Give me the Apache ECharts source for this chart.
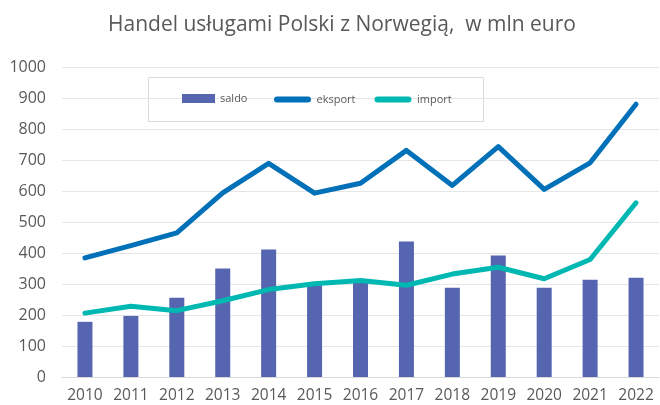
<!DOCTYPE html>
<html><head><meta charset="utf-8">
<script src="https://cdn.jsdelivr.net/npm/echarts@6/dist/echarts.min.js"></script>
<style>html,body{margin:0;padding:0;background:#fff}#c{width:660px;height:405px}</style>
</head><body><div id="c"></div>
<script>
const years = ['2010','2011','2012','2013','2014','2015','2016','2017','2018','2019','2020','2021','2022'];
const saldo = [178, 197, 256, 350, 411, 297, 305, 437, 288, 392, 288, 314, 320];
const eksport = [384, 424, 465, 594, 689, 593, 625, 731, 618, 743, 605, 691, 880];
const importV = [206, 228, 214, 246, 282, 301, 311, 296, 332, 354, 317, 379, 562];
const yTicks = {min: 0, max: 1000, interval: 100};

const chart = echarts.init(document.getElementById('c'));
const font = '"Open Sans", sans-serif';
const pill = 'path://M3,0H34A3,3,0,0,1,34,6H3A3,3,0,0,1,3,0Z';
const legendText = {fontFamily: font, fontSize: 11, color: '#595959'};
chart.setOption({
  animation: false,
  backgroundColor: '#fff',
  title: {
    text: 'Handel usługami Polski z Norwegią,  w mln euro',
    left: 103, top: 10,
    textStyle: {fontFamily: font, fontSize: 21, fontWeight: 'normal', color: '#595959'}
  },
  graphic: [{
    type: 'rect', left: 148, top: 77, z: 0,
    shape: {width: 335, height: 44},
    style: {fill: '#fff', stroke: '#d9d9d9', lineWidth: 1}
  }],
  legend: [{
    left: 182, top: 93, padding: 0,
    itemWidth: 33, itemHeight: 9, itemGap: 20,
    textStyle: legendText,
    data: [{name: 'saldo', icon: 'rect'}]
  }, {
    left: 274, top: 94, padding: 0,
    itemWidth: 38, itemHeight: 6, itemGap: 19,
    textStyle: legendText,
    data: [{name: 'eksport', icon: pill}, {name: 'import', icon: pill}]
  }],
  grid: {left: 62, right: 1, top: 67, bottom: 28, containLabel: false},
  xAxis: {
    type: 'category', data: years,
    axisLine: {lineStyle: {color: '#d9d9d9'}},
    axisTick: {show: false},
    axisLabel: {fontFamily: font, fontSize: 15.5, color: '#595959', margin: 11, interval: 0}
  },
  yAxis: {
    type: 'value', min: yTicks.min, max: yTicks.max, interval: yTicks.interval,
    axisLine: {show: false}, axisTick: {show: false},
    splitLine: {lineStyle: {color: '#e6e6e6'}},
    axisLabel: {fontFamily: font, fontSize: 16, color: '#595959', margin: 16,
      formatter: v => String(v)}
  },
  series: [
    {name: 'saldo', type: 'bar', data: saldo, barWidth: 15, itemStyle: {color: '#5565b0'}},
    {name: 'eksport', type: 'line', data: eksport, symbol: 'none',
     lineStyle: {width: 5, color: '#0071b9', cap: 'round', join: 'round'}, itemStyle: {color: '#0071b9'}},
    {name: 'import', type: 'line', data: importV, symbol: 'none',
     lineStyle: {width: 5, color: '#00b8b2', cap: 'round', join: 'round'}, itemStyle: {color: '#00b8b2'}}
  ]
});
</script></body></html>
